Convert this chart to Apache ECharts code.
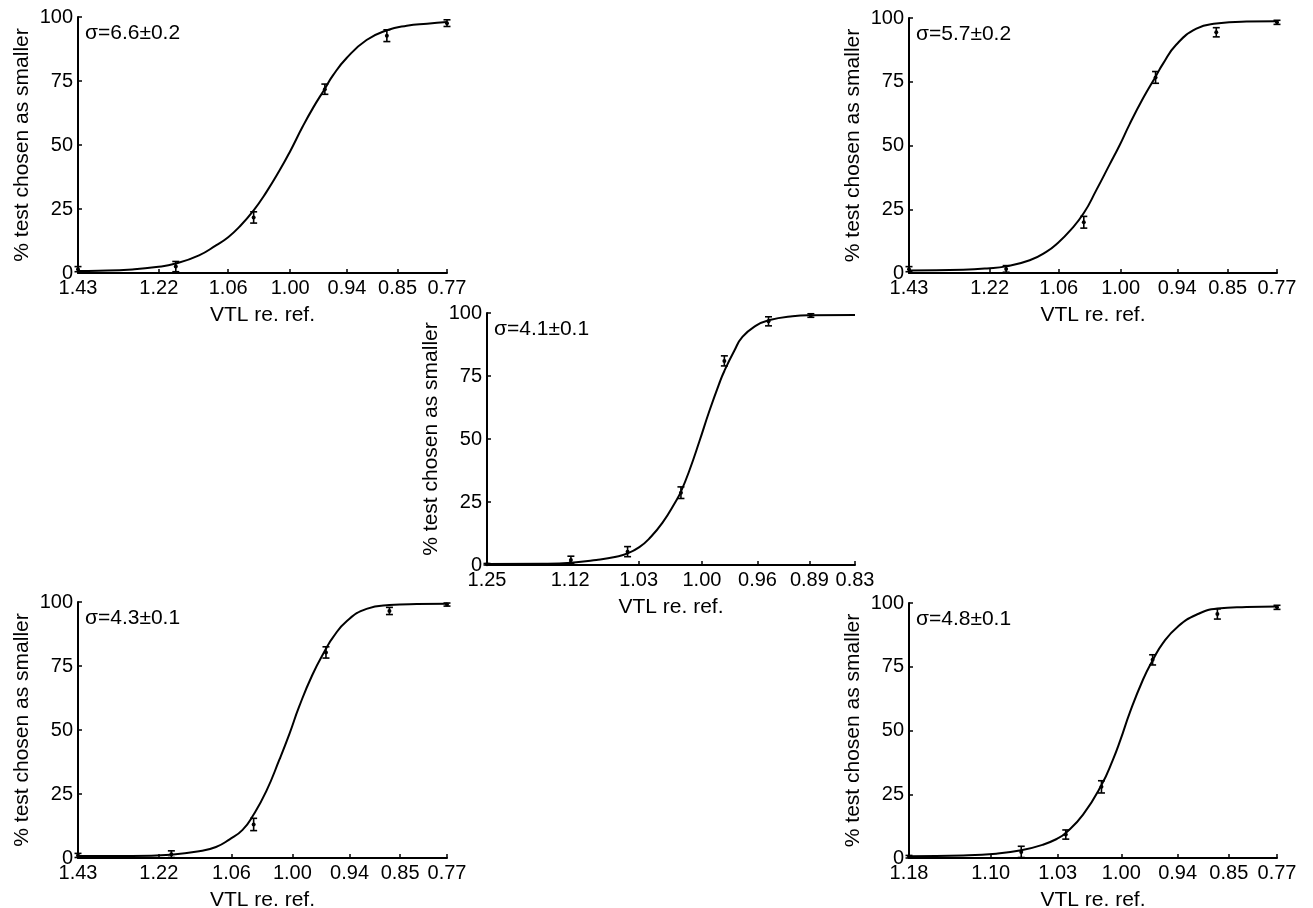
<!DOCTYPE html>
<html>
<head>
<meta charset="utf-8">
<title>VTL discrimination</title>
<script src="https://cdn.jsdelivr.net/npm/echarts@6/dist/echarts.min.js"></script>
<style>
  html, body { margin: 0; padding: 0; background: #fff; }
  #chart { width: 1313px; height: 908px; }
</style>
</head>
<body>
<div id="chart"></div>
<script>
// x values are positions along each panel's x axis: 0 = left end, 100 = right end.
// tick labels are the VTL ratios printed under those positions.

// top-left panel
const tlSigma = 'σ=6.6±0.2';
const tlTicks = [0, 21.9, 40.7, 57.5, 72.9, 86.6, 100];
const tlTickLabels = ['1.43', '1.22', '1.06', '1.00', '0.94', '0.85', '0.77'];
const tlPointX = [0, 26.5, 47.6, 66.9, 83.7, 100];
const tlPointY = [1.5, 2.5, 21.7, 71.8, 92.7, 97.6];
const tlPointErr = [1, 2, 2.2, 2, 2.3, 1.3];
const tlCurveX = [0, 5.6, 14.7, 21.2, 26.5, 32.8, 37.4, 40.7, 43.7, 47.6, 51, 54.6, 57.3, 61, 63.7, 66.9, 69, 72.8, 78.2, 83.7, 89.1, 94.6, 100];
const tlCurveY = [0.8, 0.9, 1.4, 2.3, 3.7, 6.9, 10.8, 14, 18, 24.5, 31.5, 40, 47, 57.5, 64.5, 72, 77, 84, 91, 94.8, 96.6, 97.4, 98];

// top-right panel
const trSigma = 'σ=5.7±0.2';
const trTicks = [0, 21.9, 40.7, 57.5, 72.9, 86.6, 100];
const trTickLabels = ['1.43', '1.22', '1.06', '1.00', '0.94', '0.85', '0.77'];
const trPointX = [0, 26.4, 47.5, 67.0, 83.5, 100];
const trPointY = [1.5, 1.6, 19.9, 76.7, 94.4, 98.3];
const trPointErr = [1, 1.3, 2.3, 2.3, 1.8, 0.8];
const trCurveX = [0, 14.7, 21.2, 26.4, 32.8, 37.3, 40.6, 43.7, 47.5, 50.9, 54.5, 57.2, 60, 63.6, 67, 69, 72.6, 78.1, 83.5, 91.7, 100];
const trCurveY = [1.0, 1.3, 1.8, 2.6, 5.0, 8.3, 12, 16.5, 23.5, 32.5, 42.5, 50, 58.5, 68.5, 77, 82, 89.5, 95.8, 97.8, 98.6, 98.7];

// middle panel
const mSigma = 'σ=4.1±0.1';
const mTicks = [0, 22.6, 41.2, 58.4, 73.5, 87.6, 100];
const mTickLabels = ['1.25', '1.12', '1.03', '1.00', '0.96', '0.89', '0.83'];
const mPointX = [0, 22.8, 38.2, 52.7, 64.5, 76.5, 88.0];
const mPointY = [0.3, 2, 5.3, 28.7, 81, 96.7, 99];
const mPointErr = [0.3, 1.5, 2, 2.3, 2, 1.8, 0.7];
const mCurveX = [0, 15.2, 22.9, 29.7, 35.1, 38.2, 41.4, 44.1, 47.7, 51.4, 52.7, 55, 57.7, 60.4, 63.1, 64.5, 67.2, 69.4, 73.1, 76.5, 83, 88, 100];
const mCurveY = [0.4, 0.5, 0.9, 2, 3.3, 4.6, 7.1, 10.5, 16.8, 25.5, 29.1, 37.5, 49, 61, 72, 77, 85, 90.5, 95, 97.1, 98.7, 99.1, 99.2];

// bottom-left panel
const blSigma = 'σ=4.3±0.1';
const blTicks = [0, 21.9, 41.6, 58.1, 73.6, 87.3, 100];
const blTickLabels = ['1.43', '1.22', '1.06', '1.00', '0.94', '0.85', '0.77'];
const blPointX = [0, 25.3, 47.6, 67.2, 84.4, 100];
const blPointY = [1, 1.5, 13.1, 80.3, 96.5, 99];
const blPointErr = [0.8, 1.3, 2.4, 2.2, 1.4, 0.6];
const blCurveX = [0, 14.7, 25.1, 32.8, 37.4, 41, 44.6, 47.6, 51, 54.6, 57.3, 59.9, 63.5, 67.2, 69.1, 72.8, 78.2, 84.4, 91.8, 100];
const blCurveY = [0.8, 0.8, 1.3, 2.6, 4.3, 7.2, 11, 17, 26, 38.5, 48.5, 59, 71.5, 81.7, 86.2, 92.5, 97.3, 98.8, 99.2, 99.3];

// bottom-right panel
const brSigma = 'σ=4.8±0.1';
const brTicks = [0, 22.2, 40.4, 57.7, 73.0, 86.9, 100];
const brTickLabels = ['1.18', '1.10', '1.03', '1.00', '0.94', '0.85', '0.77'];
const brPointX = [0, 30.5, 42.6, 52.3, 66.2, 83.8, 100];
const brPointY = [0.5, 2.4, 9.2, 27.9, 77.7, 95.7, 98.3];
const brPointErr = [0.5, 2.2, 1.8, 2.4, 2, 2, 0.8];
const brCurveX = [0, 14.7, 23.7, 30.5, 36.4, 40.3, 42.6, 47.3, 52.3, 55.4, 57.5, 60, 63.6, 66.2, 69, 73.1, 78.1, 83.8, 91.7, 100];
const brCurveY = [0.7, 1.0, 1.7, 3.0, 5.2, 7.6, 9.8, 17, 28.6, 38.5, 46.5, 57, 70, 77.5, 84.3, 90.8, 95.4, 97.8, 98.4, 98.6];

const FONT = '"Liberation Sans", Arial, Helvetica, sans-serif';

const panels = [
  { box: { left: 78, top: 17, width: 369, height: 256 }, sigma: tlSigma, ticks: tlTicks, labels: tlTickLabels,
    px: tlPointX, py: tlPointY, pe: tlPointErr, cx: tlCurveX, cy: tlCurveY },
  { box: { left: 909, top: 18, width: 368, height: 255 }, sigma: trSigma, ticks: trTicks, labels: trTickLabels,
    px: trPointX, py: trPointY, pe: trPointErr, cx: trCurveX, cy: trCurveY },
  { box: { left: 487, top: 313, width: 368, height: 252 }, sigma: mSigma, ticks: mTicks, labels: mTickLabels,
    px: mPointX, py: mPointY, pe: mPointErr, cx: mCurveX, cy: mCurveY },
  { box: { left: 78, top: 602, width: 369, height: 256 }, sigma: blSigma, ticks: blTicks, labels: blTickLabels,
    px: blPointX, py: blPointY, pe: blPointErr, cx: blCurveX, cy: blCurveY },
  { box: { left: 909, top: 603, width: 368, height: 255 }, sigma: brSigma, ticks: brTicks, labels: brTickLabels,
    px: brPointX, py: brPointY, pe: brPointErr, cx: brCurveX, cy: brCurveY }
];

function renderErrorBar(params, api) {
  const x = api.value(0), y = api.value(1), e = api.value(2);
  const hi = api.coord([x, Math.min(100, y + e)]);
  const lo = api.coord([x, Math.max(0, y - e)]);
  const mid = api.coord([x, y]);
  const w = 3.5;
  const st = { stroke: '#000', lineWidth: 1.6 };
  return {
    type: 'group',
    children: [
      { type: 'line', shape: { x1: hi[0], y1: hi[1], x2: lo[0], y2: lo[1] }, style: st },
      { type: 'line', shape: { x1: hi[0] - w, y1: hi[1], x2: hi[0] + w, y2: hi[1] }, style: st },
      { type: 'line', shape: { x1: lo[0] - w, y1: lo[1], x2: lo[0] + w, y2: lo[1] }, style: st },
      { type: 'circle', shape: { cx: mid[0], cy: mid[1], r: 2 }, style: { fill: '#000' } }
    ]
  };
}

const grids = [], xAxes = [], yAxes = [], series = [], texts = [];

panels.forEach(function (p, i) {
  grids.push(Object.assign({ containLabel: false, outerBoundsMode: 'none' }, p.box));

  xAxes.push({
    gridIndex: i, type: 'value', min: 0, max: 100,
    name: 'VTL re. ref.', nameLocation: 'middle', nameGap: 32,
    nameTextStyle: { color: '#000', fontSize: 21, fontFamily: FONT },
    axisLine: { lineStyle: { color: '#000', width: 2 } },
    axisTick: { inside: true, length: 4, customValues: p.ticks, lineStyle: { color: '#000', width: 1.5 } },
    axisLabel: {
      customValues: p.ticks, color: '#000', fontSize: 20, fontFamily: FONT, margin: 5,
      formatter: function (v) {
        let k = 0;
        p.ticks.forEach(function (t, j) { if (Math.abs(t - v) < Math.abs(p.ticks[k] - v)) k = j; });
        return p.labels[k];
      }
    },
    splitLine: { show: false }
  });

  yAxes.push({
    gridIndex: i, type: 'value', min: 0, max: 100, interval: 25,
    name: '% test chosen as smaller', nameLocation: 'middle', nameGap: 45, nameRotate: 90,
    nameTextStyle: { color: '#000', fontSize: 21, fontFamily: FONT },
    axisLine: { show: true, lineStyle: { color: '#000', width: 2 } },
    axisTick: { show: true, inside: true, length: 4, lineStyle: { color: '#000', width: 1.5 } },
    axisLabel: { color: '#000', fontSize: 20, fontFamily: FONT, margin: 5 },
    splitLine: { show: false }
  });

  series.push({
    type: 'line', xAxisIndex: i, yAxisIndex: i,
    data: p.cx.map(function (x, j) { return [x, p.cy[j]]; }),
    smooth: 0.5, showSymbol: false, silent: true,
    lineStyle: { color: '#000', width: 2 }
  });

  series.push({
    type: 'custom', xAxisIndex: i, yAxisIndex: i,
    renderItem: renderErrorBar,
    encode: { x: 0, y: 1 },
    data: p.px.map(function (x, j) { return [x, p.py[j], p.pe[j]]; }),
    silent: true
  });

  texts.push({
    type: 'text', x: p.box.left + 7, y: p.box.top + 16,
    style: { text: p.sigma, fill: '#000', font: '21px ' + FONT, verticalAlign: 'middle' }
  });
});

const chart = echarts.init(document.getElementById('chart'));
chart.setOption({
  backgroundColor: '#fff',
  animation: false,
  grid: grids,
  xAxis: xAxes,
  yAxis: yAxes,
  series: series,
  graphic: texts
});
</script>
</body>
</html>
